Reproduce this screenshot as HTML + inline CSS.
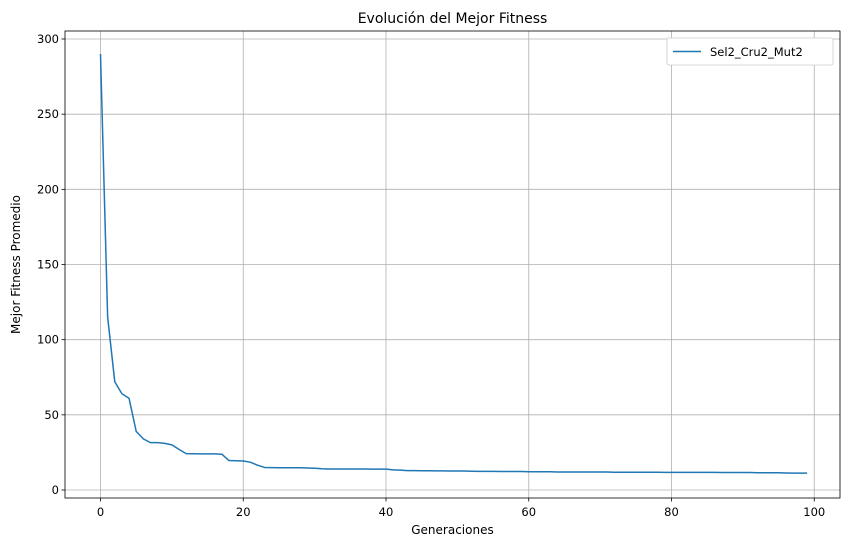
<!DOCTYPE html>
<html><head><meta charset="utf-8"><style>
body{margin:0;background:#fff;font-family:"Liberation Sans","DejaVu Sans",sans-serif}
svg text{font-family:"DejaVu Sans","Liberation Sans",sans-serif}
</style></head><body>
<svg id="chart" width="850" height="548"></svg>
<script>
const xTicks=[0,20,40,60,80,100];
const yTicks=[0,50,100,150,200,250,300];
const seriesName="Sel2_Cru2_Mut2";
const fitness=[290,115,72,64,61,39,34,31.5,31.5,31,30,27,24.2,24.1,24,24,24,23.8,19.6,19.5,19.3,18.5,16.5,15,14.9,14.8,14.8,14.8,14.8,14.6,14.5,14.1,14,14,14,14,14,14,13.9,13.9,13.9,13.4,13.2,12.9,12.9,12.8,12.8,12.7,12.7,12.6,12.6,12.6,12.5,12.4,12.4,12.4,12.3,12.3,12.3,12.3,12.1,12.1,12.1,12.1,12,12,12,12,12,12,12,12,11.8,11.8,11.8,11.8,11.8,11.8,11.8,11.7,11.7,11.7,11.7,11.7,11.7,11.7,11.7,11.6,11.6,11.6,11.6,11.6,11.5,11.5,11.5,11.5,11.3,11.2,11.2,11.2];
const svg=document.getElementById('chart');
const NS='http://www.w3.org/2000/svg';
const L=65,R=840,T=31,B=498;
const xs=v=>100.5+v*(386-100.5)/40;
const ys=v=>490-v*(490-39)/300;
function mk(tag,attrs,parent){const e=document.createElementNS(NS,tag);for(const k in attrs)e.setAttribute(k,attrs[k]);(parent||svg).appendChild(e);return e;}
xTicks.forEach(t=>{const x=xs(t);if(x>R)return;
const g=mk('line',{x1:x,x2:x,y1:T,y2:B,stroke:'#b0b0b0','stroke-width':0.8});


mk('line',{x1:x,x2:x,y1:B,y2:B+3.5,stroke:'#000','stroke-width':0.8});
const tx=mk('text',{x:x,y:B+18,'text-anchor':'middle','font-size':11.5,fill:'#000'});tx.textContent=t;

});
yTicks.forEach(t=>{const y=ys(t);
const g=mk('line',{x1:L,x2:R,y1:y,y2:y,stroke:'#b0b0b0','stroke-width':0.8});


mk('line',{x1:L-3.5,x2:L,y1:y,y2:y,stroke:'#000','stroke-width':0.8});
const tx=mk('text',{x:L-6,y:y+4,'text-anchor':'end','font-size':11.5,fill:'#000'});tx.textContent=t;

});
const pts=fitness.map((v,i)=>xs(i).toFixed(2)+','+ys(v).toFixed(2)).join(' ');
const line=mk('polyline',{points:pts,fill:'none',stroke:'#1f77b4','stroke-width':1.5,'stroke-linejoin':'round'});


const fr=mk('rect',{x:L,y:T,width:R-L,height:B-T,fill:'none',stroke:'#000','stroke-width':0.8});


const title=mk('text',{x:(L+R)/2,y:T-8,'text-anchor':'middle','font-size':14,fill:'#000'});title.textContent='Evolución del Mejor Fitness';


const xl=mk('text',{x:(L+R)/2,y:534,'text-anchor':'middle','font-size':12,fill:'#000'});xl.textContent='Generaciones';


const yl=mk('text',{x:20,y:(T+B)/2,'text-anchor':'middle','font-size':12,fill:'#000',transform:'rotate(-90 20 '+((T+B)/2)+')'});yl.textContent='Mejor Fitness Promedio';


const lg=mk('g',{});


mk('rect',{x:667,y:38,width:166,height:27,fill:'#fff',stroke:'#ccc','stroke-width':0.8,rx:2},lg);
mk('line',{x1:673,x2:701,y1:51.5,y2:51.5,stroke:'#1f77b4','stroke-width':1.5},lg);
const lt=mk('text',{x:710,y:56,'font-size':11.5,fill:'#000'},lg);lt.textContent=seriesName;


</script>
</body></html>
